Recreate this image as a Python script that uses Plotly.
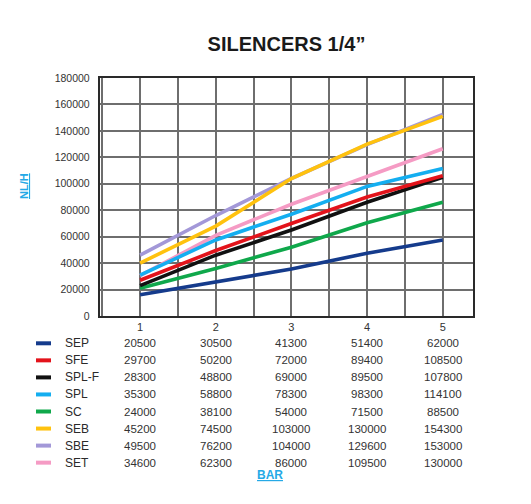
import plotly.graph_objects as go

# pressure (bar) on the x axis
bar = [1, 2, 3, 4, 5]

names = ["SEP", "SFE", "SPL-F", "SPL", "SC", "SEB", "SBE", "SET"]
colors = ["#153b8c", "#e3131b", "#111111", "#14aef0", "#0fa84b",
          "#ffc20e", "#a398d8", "#f59bc4"]

# flow curves as drawn on the chart (NL/H)
sep = [16000, 26000, 35500, 47500, 57500]
sfe = [27000, 49500, 70000, 90000, 106000]
splf = [23000, 46000, 65000, 86000, 105000]
spl = [31000, 57500, 77000, 98000, 111500]
sc = [21000, 36000, 52000, 70500, 86000]
seb = [40000, 68000, 104000, 130000, 151000]
sbe = [46000, 76000, 104000, 129600, 152500]
set_ = [30500, 61000, 84500, 105700, 126500]

# values printed in the table under the chart
sep_tab = [20500, 30500, 41300, 51400, 62000]
sfe_tab = [29700, 50200, 72000, 89400, 108500]
splf_tab = [28300, 48800, 69000, 89500, 107800]
spl_tab = [35300, 58800, 78300, 98300, 114100]
sc_tab = [24000, 38100, 54000, 71500, 88500]
seb_tab = [45200, 74500, 103000, 130000, 154300]
sbe_tab = [49500, 76200, 104000, 129600, 153000]
set_tab = [34600, 62300, 86000, 109500, 130000]

curves = [sep, sfe, splf, spl, sc, seb, sbe, set_]
tables = [sep_tab, sfe_tab, splf_tab, spl_tab, sc_tab, seb_tab, sbe_tab, set_tab]

# the page adds an 8px body margin, so the figure is 8px smaller each way
PAGE = 8
W, H = 531 - PAGE, 504 - PAGE
L, R, T, B = 100, 473, 78, 316   # plot area in screen pixels


def px(x):
    return (x - L) / (R - L)


def py(y):
    return (B - y) / (B - T)


fig = go.Figure()

# draw lavender and pink first so yellow / blue sit on top
order = [6, 7, 0, 4, 2, 1, 3, 5]
for i in order:
    fig.add_trace(go.Scatter(
        x=bar, y=curves[i], mode="lines", name=names[i],
        line=dict(color=colors[i], width=3.6),
        showlegend=False,
    ))

font = "Liberation Sans, Arial, sans-serif"
shapes = []
annotations = []

# table: colour key, name and printed values per row
row0, row_step = 343.3, 17.05
for i, name in enumerate(names):
    yy = py(row0 + i * row_step)
    shapes.append(dict(type="line", xref="paper", yref="paper",
                       x0=px(36), x1=px(51), y0=yy, y1=yy,
                       line=dict(color=colors[i], width=4)))
    annotations.append(dict(x=px(63), y=yy, xref="paper", yref="paper",
                            text=name, showarrow=False, xanchor="left",
                            yanchor="middle",
                            font=dict(family=font, size=12, color="#2a2a2a")))
    for xv, v in zip(bar, tables[i]):
        annotations.append(dict(x=xv, y=yy, xref="x", yref="paper",
                                text=str(v), showarrow=False,
                                xanchor="center", yanchor="middle",
                                font=dict(family=font, size=11.5, color="#333333")))

blue = "#25a9e6"
annotations.append(dict(x=px(270), y=py(484), xref="paper", yref="paper",
                        text="<b>BAR</b>", showarrow=False,
                        font=dict(family=font, size=12, color=blue,
                                  lineposition="under")))
annotations.append(dict(x=px(16), y=py(186), xref="paper", yref="paper",
                        text="<b>NL/H</b>", showarrow=False, textangle=-90,
                        font=dict(family=font, size=11, color=blue,
                                  lineposition="under")))

fig.update_layout(
    width=W, height=H,
    margin=dict(l=L - PAGE, r=531 - R, t=T - PAGE, b=504 - B),
    paper_bgcolor="white", plot_bgcolor="white",
    title=dict(text="<b>SILENCERS 1/4”</b>", x=0.5, xref="paper",
               y=1 - (44 - PAGE) / H, yanchor="middle",
               font=dict(family=font, size=20, color="#1a1a1a")),
    shapes=shapes,
    annotations=annotations,
)

fig.update_xaxes(
    range=[0.47, 5.4], tickvals=bar, ticks="",
    showgrid=True, gridcolor="#6e6e6e", gridwidth=1.6,
    minor=dict(dtick=0.5, tick0=0.5, showgrid=True,
               gridcolor="#6e6e6e", gridwidth=1.6),
    showline=True, mirror=True, linecolor="#2a2a2a", linewidth=2.4,
    zeroline=False,
    tickfont=dict(family=font, size=11, color="#333333"),
)
fig.update_yaxes(
    range=[0, 180000], dtick=20000, tickformat="d", ticks="",
    ticklabelstandoff=6,
    showgrid=True, gridcolor="#6e6e6e", gridwidth=1.6,
    showline=True, mirror=True, linecolor="#2a2a2a", linewidth=2.4,
    zeroline=False,
    tickfont=dict(family=font, size=10.5, color="#333333"),
)

fig.write_html("out.html")
